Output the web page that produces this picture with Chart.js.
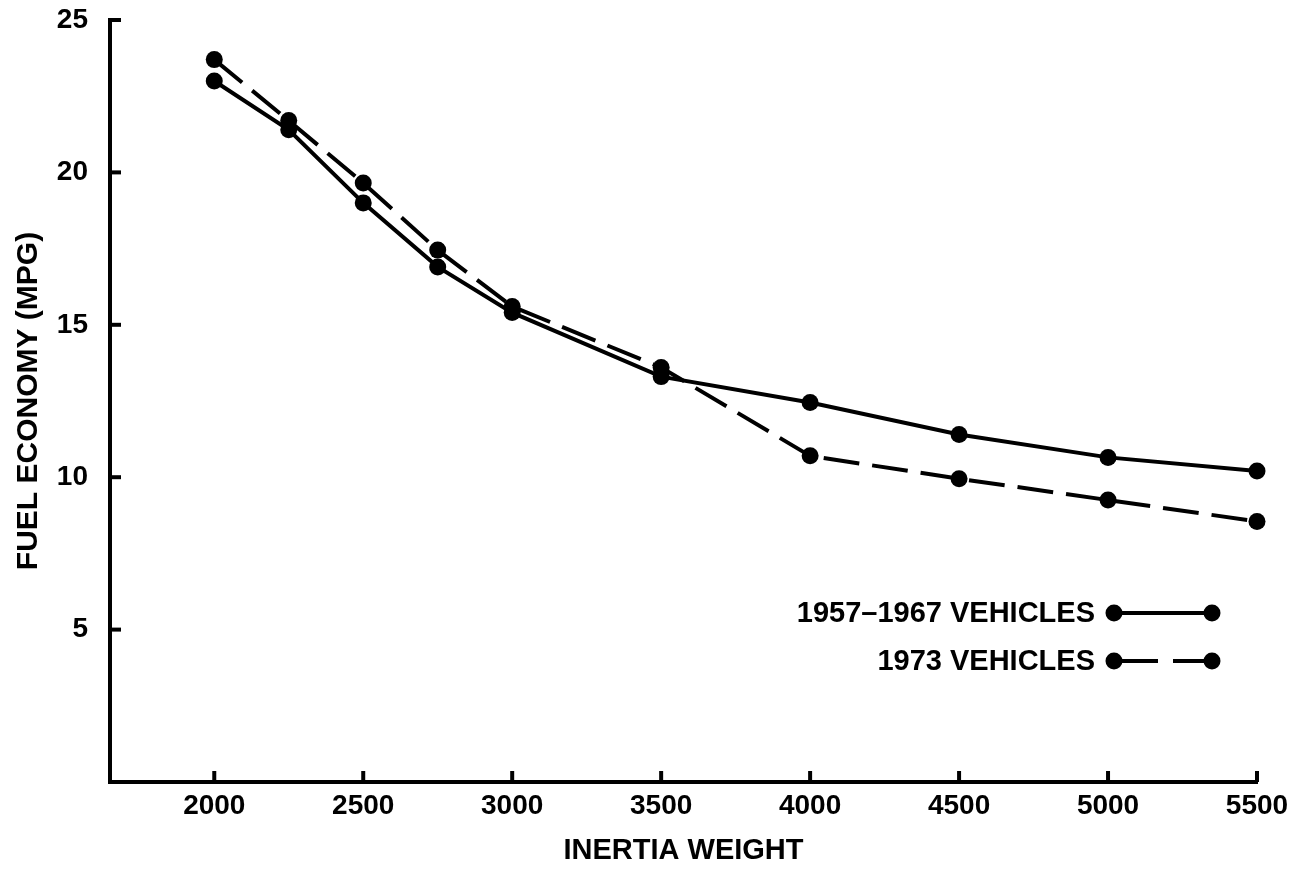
<!DOCTYPE html>
<html>
<head>
<meta charset="utf-8">
<script src="https://cdn.jsdelivr.net/npm/chart.js@4/dist/chart.umd.min.js"></script>
<style>
  html, body { margin: 0; padding: 0; background: #fff; }
  #wrap { width: 1294px; height: 871px; position: relative; }
</style>
</head>
<body>
<div id="wrap"><canvas id="c" width="1294" height="871"></canvas></div>
<script>
// ---- data ----
const inertiaWeight = [2000, 2250, 2500, 2750, 3000, 3500, 4000, 4500, 5000, 5500];
const mpg1957_1967 = [23.0, 21.4, 19.0, 16.9, 15.4, 13.3, 12.45, 11.4, 10.65, 10.2];
const mpg1973 = [23.7, 21.7, 19.65, 17.45, 15.6, 13.6, 10.7, 9.95, 9.25, 8.55];
const xTickValues = [2000, 2500, 3000, 3500, 4000, 4500, 5000, 5500];
const yTickValues = [5, 10, 15, 20, 25];
const seriesNames = ['1957\u20131967 VEHICLES', '1973 VEHICLES'];
const xTitle = 'INERTIA WEIGHT';
const yTitle = 'FUEL ECONOMY (MPG)';

const FONT = '"Liberation Sans", Arial, Helvetica, sans-serif';
const INK = '#000';

function toPoints(xs, ys) { return xs.map((x, i) => ({ x: x, y: ys[i] })); }

function zeroPad(scale) {
  scale.paddingTop = 0; scale.paddingBottom = 0;
  scale.paddingLeft = 0; scale.paddingRight = 0;
}

const inwardTicks = {
  id: 'inwardTicks',
  afterDraw(chart) {
    const ctx = chart.ctx;
    const xs = chart.scales.x, ys = chart.scales.y;
    ctx.save();
    ctx.strokeStyle = INK;
    ctx.lineWidth = 4;
    ctx.lineCap = 'butt';
    xs.ticks.forEach(t => {
      const px = xs.getPixelForValue(t.value);
      ctx.beginPath();
      ctx.moveTo(px, ys.bottom);
      ctx.lineTo(px, ys.bottom - 11);
      ctx.stroke();
    });
    ys.ticks.forEach(t => {
      const py = ys.getPixelForValue(t.value);
      ctx.beginPath();
      ctx.moveTo(xs.left, py);
      ctx.lineTo(xs.left + 11, py);
      ctx.stroke();
    });
    ctx.restore();
  }
};

const customLegend = {
  id: 'customLegend',
  afterDraw(chart) {
    const ctx = chart.ctx;
    const rows = [
      { y: 613, ds: chart.data.datasets[0], dash: [] },
      { y: 661, ds: chart.data.datasets[1], dash: [44, 15] }
    ];
    ctx.save();
    rows.forEach(r => {
      ctx.font = 'bold 29px ' + FONT;
      ctx.fillStyle = INK;
      ctx.textAlign = 'right';
      ctx.textBaseline = 'middle';
      ctx.fillText(r.ds.label, 1095, r.y + 1);
      ctx.strokeStyle = INK;
      ctx.lineWidth = r.ds.borderWidth;
      ctx.setLineDash(r.dash);
      ctx.beginPath();
      ctx.moveTo(1114, r.y);
      ctx.lineTo(1212, r.y);
      ctx.stroke();
      ctx.setLineDash([]);
      [1114, 1212].forEach(px => {
        ctx.beginPath();
        ctx.arc(px, r.y, r.ds.pointRadius, 0, Math.PI * 2);
        ctx.fill();
      });
    });
    ctx.restore();
  }
};

new Chart(document.getElementById('c'), {
  type: 'line',
  data: {
    datasets: [
      {
        label: seriesNames[0],
        data: toPoints(inertiaWeight, mpg1957_1967),
        borderColor: INK, backgroundColor: INK,
        borderWidth: 4, pointRadius: 8.5, pointBackgroundColor: INK, pointBorderWidth: 0,
        tension: 0, fill: false, clip: false
      },
      {
        label: seriesNames[1],
        data: toPoints(inertiaWeight, mpg1973),
        borderColor: INK, backgroundColor: INK,
        borderWidth: 4, borderDash: [36, 13], pointRadius: 8.5, pointBackgroundColor: INK, pointBorderWidth: 0,
        tension: 0, fill: false, clip: false
      }
    ]
  },
  options: {
    responsive: false,
    animation: false,
    devicePixelRatio: 1,
    layout: { padding: { left: 0, top: 20, right: 37, bottom: 0 } },
    plugins: { legend: { display: false }, tooltip: { enabled: false } },
    scales: {
      x: {
        type: 'linear',
        min: 1650, max: 5500,
        afterBuildTicks(scale) { scale.ticks = xTickValues.map(v => ({ value: v })); },
        afterFit(scale) { scale.height = 89; zeroPad(scale); },
        grid: { display: false, drawTicks: false },
        border: { display: true, color: INK, width: 4 },
        ticks: { color: INK, padding: 7, maxRotation: 0, autoSkip: false,
                 callback: v => String(v),
                 font: { family: FONT, size: 28, weight: 'bold' } },
        title: { display: true, text: xTitle, color: INK,
                 font: { family: FONT, size: 29, weight: 'bold', lineHeight: 1 },
                 padding: { top: 0, bottom: 6 } }
      },
      y: {
        type: 'linear',
        min: 0, max: 25,
        afterBuildTicks(scale) { scale.ticks = yTickValues.map(v => ({ value: v })); },
        afterFit(scale) { scale.width = 110; zeroPad(scale); },
        grid: { display: false, drawTicks: false },
        border: { display: true, color: INK, width: 4 },
        ticks: { color: INK, padding: 22, autoSkip: false,
                 callback: v => String(v),
                 font: { family: FONT, size: 28, weight: 'bold' } },
        title: { display: true, text: yTitle, color: INK,
                 font: { family: FONT, size: 30, weight: 'bold', lineHeight: 1 },
                 padding: { top: 14, bottom: 0 } }
      }
    }
  },
  plugins: [inwardTicks, customLegend]
});
</script>
</body>
</html>
